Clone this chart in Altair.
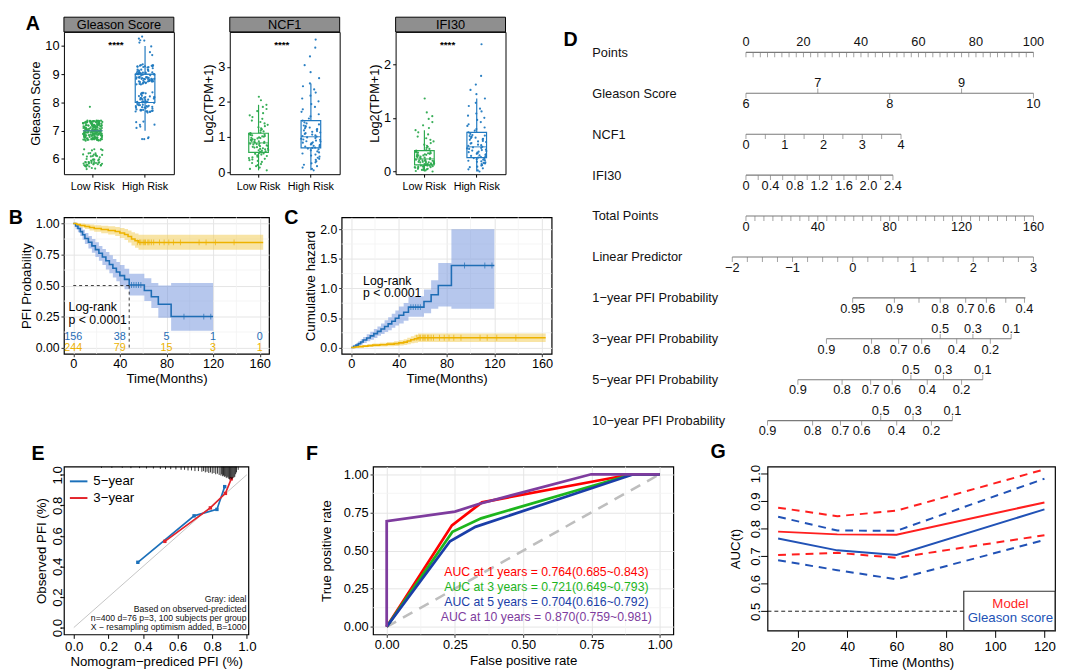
import altair as alt
import pandas as pd

FONT = "Liberation Sans"
M = "\u2212"

# ======================= Panel A data =======================
group_names = ["Low Risk", "High Risk"]
gleason_levels = [6, 7, 8, 9, 10]
gleason_low_counts = [52, 191, 1, 0, 0]
gleason_high_counts = [0, 10, 62, 76, 8]
ncf1_low = [0.05, 0.09, 0.13, 0.17, 0.20, 0.23, 0.26, 0.29, 0.32, 0.34, 0.36, 0.38, 0.40, 0.42, 0.44, 0.46,
            0.48, 0.50, 0.52, 0.53, 0.55, 0.56, 0.58, 0.59, 0.61, 0.62, 0.63, 0.65, 0.66, 0.67, 0.68, 0.70,
            0.71, 0.72, 0.74, 0.75, 0.76, 0.77, 0.79, 0.80, 0.81, 0.82, 0.83, 0.84, 0.86, 0.87, 0.88, 0.89,
            0.91, 0.92, 0.93, 0.94, 0.96, 0.97, 0.98, 0.99, 1.01, 1.02, 1.03, 1.05, 1.06, 1.07, 1.09, 1.10,
            1.11, 1.13, 1.16, 1.19, 1.22, 1.25, 1.28, 1.31, 1.35, 1.39, 1.43, 1.47, 1.52, 1.57, 1.62, 1.68,
            1.74, 1.80, 1.86, 1.92, 2.05, 2.15]
ncf1_high = [0.05, 0.09, 0.13, 0.17, 0.21, 0.25, 0.28, 0.31, 0.35, 0.38, 0.41, 0.44, 0.47, 0.50, 0.53, 0.56,
             0.59, 0.62, 0.65, 0.67, 0.69, 0.70, 0.72, 0.73, 0.75, 0.76, 0.78, 0.79, 0.81, 0.82, 0.84, 0.85,
             0.87, 0.88, 0.90, 0.92, 0.93, 0.95, 0.97, 0.99, 1.01, 1.03, 1.05, 1.07, 1.09, 1.11, 1.13, 1.15,
             1.17, 1.19, 1.21, 1.23, 1.25, 1.27, 1.29, 1.31, 1.33, 1.36, 1.39, 1.42, 1.47, 1.53, 1.59, 1.65,
             1.72, 1.79, 1.86, 1.94, 2.02, 2.10, 2.18, 2.27, 2.36, 2.45, 2.53, 2.68, 2.85, 3.05, 3.30, 3.55, 3.78]
ifi30_low = [0.00, 0.01, 0.02, 0.03, 0.03, 0.04, 0.05, 0.05, 0.06, 0.07, 0.07, 0.08, 0.08, 0.09, 0.09, 0.10,
             0.10, 0.11, 0.11, 0.11, 0.12, 0.12, 0.13, 0.13, 0.14, 0.14, 0.15, 0.15, 0.16, 0.16, 0.17, 0.17,
             0.18, 0.18, 0.19, 0.19, 0.20, 0.20, 0.21, 0.21, 0.22, 0.22, 0.23, 0.24, 0.25, 0.26, 0.26, 0.27,
             0.28, 0.28, 0.29, 0.30, 0.30, 0.31, 0.32, 0.32, 0.33, 0.34, 0.34, 0.35, 0.36, 0.36, 0.37, 0.38,
             0.39, 0.40, 0.42, 0.44, 0.46, 0.48, 0.50, 0.53, 0.56, 0.59, 0.62, 0.65, 0.69, 0.73, 0.77, 0.81,
             0.86, 0.92, 0.98, 1.03, 1.10, 1.36]
ifi30_high = [0.00, 0.02, 0.04, 0.06, 0.08, 0.09, 0.11, 0.12, 0.14, 0.15, 0.16, 0.17, 0.18, 0.19, 0.20, 0.21,
              0.22, 0.23, 0.24, 0.25, 0.26, 0.27, 0.28, 0.29, 0.30, 0.31, 0.32, 0.33, 0.34, 0.35, 0.36, 0.37,
              0.38, 0.39, 0.40, 0.41, 0.42, 0.43, 0.44, 0.45, 0.46, 0.48, 0.49, 0.50, 0.52, 0.53, 0.55, 0.56,
              0.57, 0.59, 0.60, 0.61, 0.62, 0.63, 0.64, 0.65, 0.66, 0.67, 0.68, 0.70, 0.73, 0.76, 0.79, 0.82,
              0.85, 0.88, 0.92, 0.96, 1.00, 1.04, 1.08, 1.12, 1.17, 1.22, 1.28, 1.36, 1.44, 1.52, 1.62, 1.78, 2.37]
sig_label = "****"

# ======================= Panel B / C data =======================
km_groups = ["High Risk", "Low Risk"]
high_t = [0, 2, 4, 6, 8, 10, 13, 16, 19, 22, 25, 28, 31, 34, 37, 40, 44, 48, 61, 67, 73, 84, 120]
high_s = [1.0, 0.98, 0.96, 0.935, 0.91, 0.88, 0.85, 0.82, 0.79, 0.76, 0.73, 0.70, 0.67, 0.64, 0.61, 0.58,
          0.55, 0.505, 0.46, 0.41, 0.35, 0.25, 0.25]
high_lo = [1.0, 0.955, 0.93, 0.90, 0.87, 0.835, 0.80, 0.765, 0.73, 0.70, 0.665, 0.63, 0.60, 0.565, 0.535,
           0.50, 0.47, 0.42, 0.375, 0.32, 0.24, 0.135, 0.135]
high_hi = [1.0, 1.0, 0.99, 0.97, 0.95, 0.925, 0.90, 0.875, 0.85, 0.82, 0.795, 0.77, 0.745, 0.715, 0.69,
           0.665, 0.635, 0.595, 0.56, 0.52, 0.50, 0.52, 0.52]
low_t = [0, 3, 6, 10, 14, 18, 24, 30, 36, 40, 44, 47, 50, 53, 56, 163]
low_s = [1.0, 0.992, 0.984, 0.976, 0.968, 0.96, 0.952, 0.944, 0.936, 0.924, 0.912, 0.896, 0.876, 0.862,
         0.848, 0.848]
low_lo = [1.0, 0.98, 0.968, 0.956, 0.945, 0.934, 0.922, 0.911, 0.899, 0.884, 0.868, 0.848, 0.824, 0.806,
          0.788, 0.788]
low_hi = [1.0, 1.0, 1.0, 0.996, 0.992, 0.987, 0.982, 0.978, 0.973, 0.965, 0.957, 0.945, 0.93, 0.92, 0.91, 0.91]
high_cens_t = [50, 52, 54, 56, 58, 95, 112, 118]
high_cens_s = [0.505, 0.505, 0.505, 0.505, 0.505, 0.25, 0.25, 0.25]
low_cens_t = [55, 57, 58, 60, 61, 62, 64, 65, 67, 69, 74, 78, 82, 86, 92, 108, 114, 122, 138]
low_cens_s = [0.848] * len(low_cens_t)
median_high_t = 48
risk_times = [0, 40, 80, 120, 160]
risk_high = [156, 38, 5, 1, 0]
risk_low = [244, 79, 15, 3, 1]
pval_text = "Log-rank\np < 0.0001"

# cumulative hazard (panel C)
high_H = [0.0, 0.02, 0.041, 0.067, 0.094, 0.128, 0.163, 0.198, 0.236, 0.274, 0.315, 0.357, 0.40, 0.446,
          0.494, 0.545, 0.598, 0.683, 0.777, 0.892, 1.05, 1.386, 1.386]
high_H_lo = [0.0, 0.0, 0.01, 0.03, 0.051, 0.078, 0.105, 0.134, 0.163, 0.198, 0.229, 0.261, 0.294, 0.335,
             0.371, 0.408, 0.454, 0.519, 0.58, 0.654, 0.693, 0.654, 0.654]
high_H_hi = [0.0, 0.046, 0.073, 0.105, 0.139, 0.18, 0.223, 0.268, 0.315, 0.357, 0.408, 0.462, 0.511, 0.571,
             0.626, 0.693, 0.755, 0.868, 0.981, 1.139, 1.427, 2.0, 2.0]
low_H = [0.0, 0.008, 0.016, 0.024, 0.033, 0.041, 0.049, 0.058, 0.066, 0.079, 0.092, 0.11, 0.132, 0.148,
         0.165, 0.165]
low_H_lo = [0.0, 0.0, 0.0, 0.004, 0.008, 0.013, 0.018, 0.022, 0.027, 0.036, 0.044, 0.057, 0.073, 0.083,
            0.094, 0.094]
low_H_hi = [0.0, 0.02, 0.033, 0.045, 0.057, 0.068, 0.081, 0.093, 0.106, 0.123, 0.141, 0.165, 0.193, 0.216,
            0.238, 0.238]
high_cens_H = [0.683, 0.683, 0.683, 0.683, 0.683, 1.386, 1.386, 1.386]
low_cens_H = [0.165] * len(low_cens_t)

# ======================= Panel D data (nomogram) =======================
nomo_rows = ["Points", "Gleason Score", "NCF1", "IFI30", "Total Points", "Linear Predictor",
             "1" + M + "year PFI Probability", "3" + M + "year PFI Probability",
             "5" + M + "year PFI Probability", "10" + M + "year PFI Probability"]
points_labels = [0, 20, 40, 60, 80, 100]
gleason_labels = [6, 7, 8, 9, 10]
gleason_sides = ["below", "above", "below", "above", "below"]
ncf1_labels = [0, 1, 2, 3, 4]
ncf1_end_tp = 86.3
ifi30_labels = [0, 0.4, 0.8, 1.2, 1.6, 2.0, 2.4]
ifi30_text = ["0", "0.4", "0.8", "1.2", "1.6", "2.0", "2.4"]
ifi30_end_tp = 81.8
total_labels = [0, 40, 80, 120, 160]
lp_labels = [-2, -1, 0, 1, 2, 3]
lp_text = [M + "2", M + "1", "0", "1", "2", "3"]
lp_tp_range = (-7.6, 160.0)
prob1_text = ["0.95", "0.9", "0.8", "0.7", "0.6", "0.4"]
prob1_pos = [59.4, 82.6, 108.1, 122.3, 133.8, 155.0]
prob1_side = ["below"] * 6
prob1_extra = [96.3, 144.6]
prob1_end = 155.5
probN_text = ["0.9", "0.8", "0.7", "0.6", "0.5", "0.4", "0.3", "0.2", "0.1"]
probN_side = ["below", "below", "below", "below", "above", "below", "above", "below", "above"]
prob3_pos = [44.8, 69.9, 85.0, 97.8, 108.1, 117.3, 126.3, 136.0, 147.6]
prob5_pos = [28.9, 53.5, 69.4, 81.4, 91.8, 100.9, 109.9, 120.0, 131.8]
prob10_pos = [12.0, 37.1, 52.6, 64.4, 75.0, 83.9, 93.0, 103.2, 114.9]

# ======================= Panel E data (calibration) =======================
cal_groups = ["5" + M + "year", "3" + M + "year"]
cal5_pred = [0.370, 0.695, 0.827, 0.872]
cal5_obs = [0.427, 0.731, 0.773, 0.922]
cal3_pred = [0.526, 0.789, 0.876, 0.910]
cal3_obs = [0.564, 0.783, 0.878, 0.973]
rug_x = [0.16, 0.22, 0.28, 0.33, 0.38, 0.42, 0.46, 0.50, 0.53, 0.56, 0.59, 0.62, 0.64, 0.66, 0.68, 0.70,
         0.72, 0.74, 0.75, 0.76, 0.77, 0.78, 0.79, 0.80, 0.81, 0.82, 0.83, 0.84, 0.85, 0.855, 0.86, 0.865,
         0.87, 0.875, 0.88, 0.885, 0.89, 0.895, 0.90, 0.905, 0.91, 0.915, 0.92, 0.925, 0.93, 0.935, 0.94, 0.95]
rug_f = [0.1, 0.1, 0.1, 0.12, 0.12, 0.15, 0.15, 0.18, 0.2, 0.2, 0.22, 0.25, 0.25, 0.3, 0.3, 0.35,
         0.35, 0.4, 0.35, 0.45, 0.4, 0.5, 0.45, 0.55, 0.5, 0.6, 0.55, 0.65, 0.7, 0.6, 0.75, 0.7,
         0.8, 0.75, 0.85, 0.9, 0.8, 0.95, 1.0, 0.9, 1.0, 0.95, 0.9, 0.85, 0.8, 0.6, 0.45, 0.25]
cal_notes = ["Gray: ideal", "Based on observed-predicted", "n=400 d=76 p=3, 100 subjects per group",
             "X " + M + " resampling optimism added, B=1000"]

# ======================= Panel F data (ROC) =======================
roc_years = [1, 3, 5, 10]
roc_fpr = [[0, 0.239, 0.349, 0.898, 1.0],
           [0, 0.241, 0.346, 0.90, 1.0],
           [0, 0.232, 0.325, 0.904, 1.0],
           [0, 0.0, 0.25, 0.337, 0.749, 1.0]]
roc_tpr = [[0, 0.665, 0.816, 1.0, 1.0],
           [0, 0.623, 0.711, 1.0, 1.0],
           [0, 0.561, 0.655, 1.0, 1.0],
           [0, 0.692, 0.755, 0.805, 1.0, 1.0]]
auc_val = ["0.764", "0.721", "0.704", "0.870"]
auc_lo = ["0.685", "0.649", "0.616", "0.759"]
auc_hi = ["0.843", "0.793", "0.792", "0.981"]
auc_text_y = [0.362, 0.262, 0.163, 0.063]
roc_colors = ["#FF0000", "#1DB51D", "#1A3EA8", "#7E3C9E"]

# ======================= Panel G data (time AUC) =======================
g_times = [12, 36, 60, 120]
model_auc = [0.789, 0.779, 0.778, 0.895]
model_lo = [0.704, 0.712, 0.694, 0.776]
model_hi = [0.876, 0.845, 0.865, 1.015]
gleason_auc = [0.764, 0.721, 0.704, 0.870]
gleason_auc_lo = [0.685, 0.649, 0.616, 0.759]
gleason_auc_hi = [0.843, 0.793, 0.792, 0.981]

# ======================= styles =======================
A_GREEN = "#2DAA4F"
A_BLUE = "#2079C0"
KM_BLUE = "#1F6DB5"
KM_BLUE_BAND = "#6D8FDC"
KM_YEL = "#EDB200"
KM_YEL_BAND = "#F2C94C"
E_BLUE = "#1B70BA"
E_RED = "#E3242B"
G_RED = "#FF1F1F"
G_BLUE = "#2152B6"
BORDER = alt.ViewBackground(stroke="black", strokeWidth=1.2)


def letter(t, dx=0, offset=2):
    return alt.TitleParams(text=t, anchor="start", fontSize=20, fontWeight="bold", dx=dx,
                           offset=offset, color="black")


def yp(v, dom, h):
    return (dom[1] - v) / (dom[1] - dom[0]) * h


def indep(c):
    return c.resolve_scale(color="independent", fill="independent").resolve_legend(
        color="independent", fill="independent")


# ======================= Panel A =======================
A_W, A_H, STRIP_H = 112, 145, 15


def a_panel(strip_text, low_vals, high_vals, ytitle, ydom, yvals, yjit):
    df = pd.DataFrame({"grp": [group_names[0]] * len(low_vals) + [group_names[1]] * len(high_vals),
                       "val": list(low_vals) + list(high_vals)})
    xsc = alt.Scale(domain=group_names, paddingInner=0.0, paddingOuter=0.05)
    ysc = alt.Scale(domain=ydom, nice=False, zero=False)
    yax = alt.Axis(values=yvals, title=ytitle, grid=False, domain=False, tickSize=3, tickColor="black",
                   labelFontSize=13, titleFontSize=13, labelPadding=2, titlePadding=2)
    xax = alt.Axis(title=None, labelAngle=0, labelFontSize=11, tickSize=3, tickColor="black",
                   domain=False, labelPadding=4)
    xenc = alt.X("grp:N", scale=xsc, axis=xax, sort=group_names)
    pts = alt.Chart(df).transform_window(idx="row_number()").transform_calculate(
        jx="(abs(sin(datum.idx * 12.9898) * 43758.5453) % 1) - 0.5",
        yj="datum.val + ((abs(sin(datum.idx * 78.233) * 43758.5453) % 1) - 0.5) * " + str(yjit),
    ).mark_circle(size=5, opacity=0.95).encode(
        x=xenc,
        xOffset=alt.XOffset("jx:Q", scale=alt.Scale(domain=[-1.35, 1.35])),
        y=alt.Y("yj:Q", scale=ysc, axis=yax),
        color=alt.Color("grp:N", scale=alt.Scale(domain=group_names, range=[A_GREEN, A_BLUE]), legend=None),
    )
    layers = [pts]
    for g, c in zip(group_names, [A_GREEN, A_BLUE]):
        layers.append(alt.Chart(df).transform_filter(alt.datum.grp == g).mark_boxplot(
            size=20, extent=1.5, outliers=False, ticks=False,
            box={"fill": "white", "fillOpacity": 0, "stroke": c, "strokeWidth": 1.2},
            median={"color": c, "thickness": 1.3},
            rule={"color": c, "strokeWidth": 1.2},
        ).encode(x=xenc, y=alt.Y("val:Q", scale=ysc, axis=yax)))
    sdf = pd.DataFrame({"t": [strip_text], "s": [sig_label]})
    layers += [
        alt.Chart(sdf).mark_text(fontSize=10, fontWeight="bold").encode(
            x=alt.value(A_W / 2 - 3), y=alt.value(13), text="s:N"),
        # facet strip drawn just above the panel
        alt.Chart(sdf).mark_rect(fill="#8F8F8F", stroke="black", strokeWidth=1).encode(
            x=alt.value(0), x2=alt.value(A_W), y=alt.value(-STRIP_H), y2=alt.value(0)),
        alt.Chart(sdf).mark_text(fontSize=13, color="black").encode(
            x=alt.value(A_W / 2), y=alt.value(-STRIP_H / 2 + 1), text="t:N"),
    ]
    return alt.layer(*layers).properties(width=A_W, height=A_H,
                                         view=alt.ViewBackground(stroke="black", strokeWidth=1))


gleason_low = [lv for lv, n in zip(gleason_levels, gleason_low_counts) for _ in range(n)]
gleason_high = [lv for lv, n in zip(gleason_levels, gleason_high_counts) for _ in range(n)]
a1 = a_panel("Gleason Score", gleason_low, gleason_high, "Gleason Score", [5.46, 10.5], [6, 7, 8, 9, 10], 0.72)
a2 = a_panel("NCF1", ncf1_low, ncf1_high, "Log2(TPM+1)", [-0.06, 4.0], [0, 1, 2, 3], 0)
a3 = a_panel("IFI30", ifi30_low, ifi30_high, "Log2(TPM+1)", [-0.05, 2.6], [0, 1, 2], 0)
a_row = indep(alt.hconcat(a1, a2, a3, spacing=28)).properties(title=letter("A", dx=-4, offset=-18))

# ======================= Panels B and C =======================
B_W, B_H, C_W = 209, 139, 214
KM_XDOM = [-8, 168]
km_major_t = [0, 40, 80, 120, 160]
km_minor_t = [20, 60, 100, 140]


def km_chart(s_high, lo_high, hi_high, s_low, lo_low, hi_low, cens_high, cens_low, ydom, yvals, yfmt,
             ytitle, minor_y, W, H, extra):
    curve = pd.DataFrame({"t": high_t + low_t, "s": s_high + s_low, "lo": lo_high + lo_low,
                          "hi": hi_high + hi_low,
                          "grp": [km_groups[0]] * len(high_t) + [km_groups[1]] * len(low_t)})
    cens = pd.DataFrame({"t": high_cens_t + low_cens_t, "s": cens_high + cens_low,
                         "grp": [km_groups[0]] * len(high_cens_t) + [km_groups[1]] * len(low_cens_t)})
    xsc = alt.Scale(domain=KM_XDOM, nice=False, zero=False)
    ysc = alt.Scale(domain=ydom, nice=False, zero=False)
    xax = alt.Axis(values=km_major_t, title="Time(Months)", grid=True, gridColor="#E4E4E4", domain=False,
                   tickSize=3, tickColor="#333333", labelFontSize=13, titleFontSize=13.5, labelPadding=1,
                   titlePadding=1)
    yax = alt.Axis(values=yvals, format=yfmt, title=ytitle, grid=True, gridColor="#E4E4E4", domain=False,
                   tickSize=3, tickColor="#333333", labelFontSize=12.5, titleFontSize=13.5, labelPadding=2,
                   titlePadding=2)
    X = lambda f: alt.X(f, scale=xsc, axis=xax)
    Y = lambda f: alt.Y(f, scale=ysc, axis=yax)
    leg = alt.Legend(orient="none", legendX=14, legendY=-21, direction="horizontal", title="Group",
                     titleOrient="left", titleFontSize=13, labelFontSize=13, symbolType="stroke",
                     symbolStrokeWidth=3, symbolSize=180, titlePadding=5, columnPadding=4, labelOffset=2,
                     padding=0)
    col = alt.Color("grp:N", scale=alt.Scale(domain=km_groups, range=[KM_BLUE, KM_YEL]), legend=leg)
    layers = [
        alt.Chart(pd.DataFrame({"t": km_minor_t})).mark_rule(color="#F2F2F2", strokeWidth=0.8).encode(x=X("t:Q")),
        alt.Chart(pd.DataFrame({"s": minor_y})).mark_rule(color="#F2F2F2", strokeWidth=0.8).encode(y=Y("s:Q")),
        alt.Chart(curve).mark_area(interpolate="step-after", fillOpacity=0.5).encode(
            x=X("t:Q"), y=Y("lo:Q"), y2="hi:Q",
            fill=alt.Fill("grp:N", scale=alt.Scale(domain=km_groups, range=[KM_BLUE_BAND, KM_YEL_BAND]),
                          legend=None)),
        alt.Chart(curve).mark_line(interpolate="step-after", strokeWidth=1.6).encode(
            x=X("t:Q"), y=Y("s:Q"), color=col),
        alt.Chart(cens).mark_tick(orient="vertical", size=6, thickness=1).encode(
            x=X("t:Q"), y=Y("s:Q"), color=col),
    ]
    layers += extra(X, Y)
    return alt.layer(*layers).properties(width=W, height=H, view=BORDER)


B_YDOM = [-0.05, 1.05]


def b_extra(X, Y):
    hl = pd.DataFrame({"t": [0], "t2": [median_high_t], "s": [0.5]})
    vl = pd.DataFrame({"t": [median_high_t], "s": [0.0], "s2": [0.5]})
    rh = pd.DataFrame({"t": risk_times, "n": [str(v) for v in risk_high]})
    rl = pd.DataFrame({"t": risk_times, "n": [str(v) for v in risk_low]})
    pv = pd.DataFrame({"t": [-4], "s": [0.372], "txt": [pval_text]})
    return [
        alt.Chart(hl).mark_rule(strokeDash=[3, 3], color="black", strokeWidth=0.8).encode(
            x=X("t:Q"), x2="t2:Q", y=Y("s:Q")),
        alt.Chart(vl).mark_rule(strokeDash=[3, 3], color="black", strokeWidth=0.8).encode(
            x=X("t:Q"), y=Y("s:Q"), y2="s2:Q"),
        alt.Chart(rh).mark_text(fontSize=11, color=KM_BLUE).encode(
            x=X("t:Q"), y=alt.value(yp(0.082, B_YDOM, B_H)), text="n:N"),
        alt.Chart(rl).mark_text(fontSize=11, color=KM_YEL).encode(
            x=X("t:Q"), y=alt.value(yp(0.0, B_YDOM, B_H)), text="n:N"),
        alt.Chart(pv).mark_text(fontSize=12.5, align="left", baseline="top", lineBreak="\n",
                                lineHeight=12.5).encode(x=X("t:Q"), y=Y("s:Q"), text="txt:N"),
    ]


def c_extra(X, Y):
    pv = pd.DataFrame({"t": [10], "s": [1.22], "txt": [pval_text]})
    return [alt.Chart(pv).mark_text(fontSize=12.5, align="left", baseline="top", lineBreak="\n",
                                    lineHeight=12.5).encode(x=X("t:Q"), y=Y("s:Q"), text="txt:N")]


b = km_chart(high_s, high_lo, high_hi, low_s, low_lo, low_hi, high_cens_s, low_cens_s, B_YDOM,
             [0, 0.25, 0.5, 0.75, 1.0], ".2f", "PFI Probability", [0.125, 0.375, 0.625, 0.875],
             B_W, B_H, b_extra).properties(title=letter("B", dx=-11, offset=-11))
c = km_chart(high_H, high_H_lo, high_H_hi, low_H, low_H_lo, low_H_hi, high_cens_H, low_cens_H,
             [-0.105, 2.2], [0, 0.5, 1.0, 1.5, 2.0], ".1f", "Cumulative hazard", [0.25, 0.75, 1.25, 1.75],
             C_W, B_H, c_extra).properties(title=letter("C", dx=-20, offset=-11))
bc_row = indep(alt.hconcat(b, c, spacing=13))
left_block = indep(alt.vconcat(a_row, bc_row, spacing=15))

# ======================= Panel D (nomogram) =======================
nomo_line, nomo_tick, nomo_lab = [], [], []


def add_linear(row, vmin, vmax, pmin, pmax, minor, lab_vals, lab_txt, lab_side, tick_dir):
    f = lambda v: pmin + (v - vmin) / (vmax - vmin) * (pmax - pmin)
    nomo_line.append({"row": row, "pos": pmin, "pos2": pmax})
    n = int(round((vmax - vmin) / minor))
    for i in range(n + 1):
        nomo_tick.append({"row": row, "pos": f(vmin + i * minor), "dir": tick_dir})
    for v, t, s in zip(lab_vals, lab_txt, lab_side):
        nomo_lab.append({"row": row, "pos": f(v), "text": t, "side": s})


def add_prob(row, txts, poss, sides, extra, end=None):
    nomo_line.append({"row": row, "pos": min(poss), "pos2": end if end else max(poss)})
    for t, p, s in zip(txts, poss, sides):
        nomo_tick.append({"row": row, "pos": p, "dir": "down" if s == "below" else "up"})
        nomo_lab.append({"row": row, "pos": p, "text": t, "side": s})
    for p in extra:
        nomo_tick.append({"row": row, "pos": p, "dir": "down"})


add_linear(nomo_rows[0], 0, 100, 0, 160, 2.5, points_labels, [str(v) for v in points_labels],
           ["above"] * 6, "down")
nomo_line.append({"row": nomo_rows[1], "pos": 0, "pos2": 160})
for v, s in zip(gleason_labels, gleason_sides):
    p = (v - 6) / 4 * 160
    nomo_tick.append({"row": nomo_rows[1], "pos": p, "dir": "up" if s == "above" else "down"})
    nomo_lab.append({"row": nomo_rows[1], "pos": p, "text": str(v), "side": s})
add_linear(nomo_rows[2], 0, 4, 0, ncf1_end_tp, 0.5, ncf1_labels, [str(v) for v in ncf1_labels],
           ["below"] * 5, "down")
add_linear(nomo_rows[3], 0, 2.4, 0, ifi30_end_tp, 0.2, ifi30_labels, ifi30_text, ["below"] * 7, "down")
add_linear(nomo_rows[4], 0, 160, 0, 160, 5, total_labels, [str(v) for v in total_labels],
           ["below"] * 5, "down")
add_linear(nomo_rows[5], -2, 3, lp_tp_range[0], lp_tp_range[1], 0.25, lp_labels, lp_text,
           ["below"] * 6, "down")
add_prob(nomo_rows[6], prob1_text, prob1_pos, prob1_side, prob1_extra, prob1_end)
add_prob(nomo_rows[7], probN_text, prob3_pos, probN_side, [])
add_prob(nomo_rows[8], probN_text, prob5_pos, probN_side, [])
add_prob(nomo_rows[9], probN_text, prob10_pos, probN_side, [])

D_W, D_H = 308, 417
nl, nt, nlab = pd.DataFrame(nomo_line), pd.DataFrame(nomo_tick), pd.DataFrame(nomo_lab)
dx_sc = alt.Scale(domain=[-8.2, 160], nice=False, zero=False)
dy_enc = alt.Y("row:N", sort=nomo_rows, scale=alt.Scale(type="point", padding=0.5),
               axis=alt.Axis(title=None, ticks=False, domain=False, labelAlign="left", labelPadding=142,
                             labelFontSize=13, labelLimit=220, labelColor="#111111"))
NOMO_LINE = "#7A7A7A"
d = alt.layer(
    alt.Chart(nl).mark_rule(color=NOMO_LINE, strokeWidth=1.1).encode(
        x=alt.X("pos:Q", scale=dx_sc, axis=None), x2="pos2:Q", y=dy_enc),
    alt.Chart(nt).transform_filter(alt.datum.dir == "down").mark_tick(
        orient="vertical", size=5, thickness=1, yOffset=2.5, color=NOMO_LINE).encode(
        x=alt.X("pos:Q", scale=dx_sc, axis=None), y=dy_enc),
    alt.Chart(nt).transform_filter(alt.datum.dir == "up").mark_tick(
        orient="vertical", size=5, thickness=1, yOffset=-2.5, color=NOMO_LINE).encode(
        x=alt.X("pos:Q", scale=dx_sc, axis=None), y=dy_enc),
    alt.Chart(nlab).transform_filter(alt.datum.side == "below").mark_text(
        baseline="top", dy=5, fontSize=13, color="#111111").encode(
        x=alt.X("pos:Q", scale=dx_sc, axis=None), y=dy_enc, text="text:N"),
    alt.Chart(nlab).transform_filter(alt.datum.side == "above").mark_text(
        baseline="bottom", dy=-3, fontSize=13, color="#111111").encode(
        x=alt.X("pos:Q", scale=dx_sc, axis=None), y=dy_enc, text="text:N"),
).properties(width=D_W, height=D_H, title=letter("D", dx=-29, offset=-18))

top = indep(alt.hconcat(left_block, d, spacing=9))

# ======================= Panel E (calibration) =======================
E_W, E_H = 188, 171
exsc = alt.Scale(domain=[-0.057, 1.009], nice=False, zero=False)
eysc = alt.Scale(domain=[-0.045, 1.053], nice=False, zero=False)
exax = alt.Axis(values=[0, 0.2, 0.4, 0.6, 0.8, 1.0], format=".1f", title="Nomogram" + M + "prediced PFI (%)",
                grid=False, domain=False, tickSize=4, tickColor="black", labelFontSize=13.5, titleFontSize=13.5,
                labelPadding=1, titlePadding=2)
eyax = alt.Axis(values=[0, 0.2, 0.4, 0.6, 0.8, 1.0], format=".1f", title="Observed PFI (%)", grid=False,
                domain=False, tickSize=4, tickColor="black", labelFontSize=13.5, titleFontSize=13.5,
                labelAngle=270, labelAlign="center", labelBaseline="alphabetic", labelPadding=-2,
                titlePadding=3)
cal_df = pd.DataFrame({"p": cal5_pred + cal3_pred, "o": cal5_obs + cal3_obs,
                       "grp": [cal_groups[0]] * 4 + [cal_groups[1]] * 4})
e_leg = alt.Legend(orient="top-left", title=None, symbolType="stroke", symbolStrokeWidth=2, symbolSize=320,
                   labelFontSize=13.5, offset=5, rowPadding=0, labelOffset=5, padding=0)
e_col = alt.Color("grp:N", scale=alt.Scale(domain=cal_groups, range=[E_BLUE, E_RED]), legend=e_leg)
notes_df = pd.DataFrame({"t": ["\n".join(cal_notes)]})
NOTE_LH = 9.4
e_main = alt.layer(
    alt.Chart(pd.DataFrame({"p": [0, 1], "o": [0, 1]})).mark_line(color="#C4C4C4", strokeWidth=1).encode(
        x=alt.X("p:Q", scale=exsc, axis=exax), y=alt.Y("o:Q", scale=eysc, axis=eyax)),
    alt.Chart(cal_df).mark_line(strokeWidth=1.7).encode(
        x=alt.X("p:Q", scale=exsc, axis=exax), y=alt.Y("o:Q", scale=eysc, axis=eyax), color=e_col),
    alt.Chart(cal_df).mark_point(shape="square", filled=True, size=12, opacity=1).encode(
        x=alt.X("p:Q", scale=exsc, axis=exax), y=alt.Y("o:Q", scale=eysc, axis=eyax), color=e_col),
    alt.Chart(notes_df).mark_text(align="right", baseline="top", fontSize=8.8, lineBreak="\n",
                                  lineHeight=NOTE_LH, color="#111111").encode(
        x=alt.value(E_W - 2), y=alt.value(E_H - 2 - NOTE_LH * len(cal_notes)), text="t:N"),
)
e_rug = alt.Chart(pd.DataFrame({"p": rug_x, "f": rug_f})).transform_calculate(z="0").mark_rule(
    color="black", strokeWidth=0.8).encode(
    x=alt.X("p:Q", scale=exsc, axis=exax),
    y=alt.Y("z:Q", scale=alt.Scale(domain=[0, 1], range=[0, 13]), axis=None), y2="f:Q")
e = alt.layer(e_main, e_rug).resolve_scale(y="independent").properties(
    width=E_W, height=E_H, view=BORDER, title=letter("E", dx=-3, offset=2))

# ======================= Panel F (ROC) =======================
F_W, F_H = 306, 171
fsc = alt.Scale(domain=[-0.05, 1.05], nice=False, zero=False)
f_ticks = [0, 0.25, 0.5, 0.75, 1.0]
fxax = alt.Axis(values=f_ticks, format=".2f", title="False positive rate", grid=True, gridColor="#E4E4E4",
                domain=False, tickSize=3, tickColor="#333333", labelFontSize=13, titleFontSize=13.5,
                labelPadding=1, titlePadding=3)
fyax = alt.Axis(values=f_ticks, format=".2f", title="True positive rate", grid=True, gridColor="#E4E4E4",
                domain=False, tickSize=3, tickColor="#333333", labelFontSize=13, titleFontSize=13.5,
                labelPadding=2, titlePadding=10)
FX = lambda fld: alt.X(fld, scale=fsc, axis=fxax)
FY = lambda fld: alt.Y(fld, scale=fsc, axis=fyax)
f_minor = [0.125, 0.375, 0.625, 0.875]
f_layers = [
    alt.Chart(pd.DataFrame({"x": f_minor})).mark_rule(color="#F2F2F2", strokeWidth=0.8).encode(x=FX("x:Q")),
    alt.Chart(pd.DataFrame({"y": f_minor})).mark_rule(color="#F2F2F2", strokeWidth=0.8).encode(y=FY("y:Q")),
    alt.Chart(pd.DataFrame({"x": [0, 1], "y": [0, 1]})).mark_line(
        color="#BEBEBE", strokeWidth=2.6, strokeDash=[11, 8]).encode(x=FX("x:Q"), y=FY("y:Q")),
]
for fp, tp, colr in zip(roc_fpr, roc_tpr, roc_colors):
    f_layers.append(alt.Chart(pd.DataFrame({"x": fp, "y": tp, "k": list(range(len(fp)))})).mark_line(
        color=colr, strokeWidth=2.8).encode(x=FX("x:Q"), y=FY("y:Q"), order="k:Q"))
for yr, v, lo, hi, ty, colr in zip(roc_years, auc_val, auc_lo, auc_hi, auc_text_y, roc_colors):
    txt = "AUC at " + str(yr) + " years = " + v + "(" + lo + "~" + hi + ")"
    f_layers.append(alt.Chart(pd.DataFrame({"x": [0.585], "y": [ty], "t": [txt]})).mark_text(
        fontSize=12.5, color=colr).encode(x=FX("x:Q"), y=FY("y:Q"), text="t:N"))
f = alt.layer(*f_layers).properties(width=F_W, height=F_H, view=BORDER,
                                    title=letter("F", dx=-14, offset=2))

# ======================= Panel G (time-dependent AUC) =======================
G_W, G_H = 293, 167
gxsc = alt.Scale(domain=[7.7, 124.3], nice=False, zero=False)
gysc = alt.Scale(domain=[0.43, 1.025], nice=False, zero=False)
gxax = alt.Axis(values=[20, 40, 60, 80, 100, 120], title="Time (Months)", grid=False, domain=False,
                tickSize=7, tickColor="black", labelFontSize=13.5, titleFontSize=13.5, labelPadding=2,
                titlePadding=3)
gyax = alt.Axis(values=[0.5, 0.6, 0.7, 0.8, 0.9, 1.0], format=".1f", title="AUC(t)", grid=False, domain=False,
                tickSize=7, tickColor="black", labelFontSize=13.5, titleFontSize=13.5, labelAngle=270,
                labelAlign="center", labelBaseline="alphabetic", labelPadding=1, titlePadding=7)
g_series = [(model_auc, G_RED, None), (model_lo, G_RED, [8, 6]), (model_hi, G_RED, [8, 6]),
            (gleason_auc, G_BLUE, None), (gleason_auc_lo, G_BLUE, [8, 6]), (gleason_auc_hi, G_BLUE, [8, 6])]
LEG_X0, LEG_Y0 = 200, G_H - 40
g_layers = [
    alt.Chart(pd.DataFrame({"v": [0.5]})).mark_rule(color="black", strokeWidth=0.9, strokeDash=[4, 3]).encode(
        y=alt.Y("v:Q", scale=gysc, axis=gyax), x=alt.value(0), x2=alt.value(LEG_X0)),
]
for vals, colr, dash in g_series:
    mk = dict(color=colr, strokeWidth=2)
    if dash:
        mk["strokeDash"] = dash
    g_layers.append(alt.Chart(pd.DataFrame({"t": g_times, "v": vals})).mark_line(**mk).encode(
        x=alt.X("t:Q", scale=gxsc, axis=gxax), y=alt.Y("v:Q", scale=gysc, axis=gyax)))
g_layers += [
    alt.Chart(pd.DataFrame({"t": ["Model"]})).mark_rect(fill="white", stroke="#333333", strokeWidth=1.2).encode(
        x=alt.value(LEG_X0), x2=alt.value(G_W), y=alt.value(LEG_Y0), y2=alt.value(G_H)),
    alt.Chart(pd.DataFrame({"t": ["Model"]})).mark_text(fontSize=13.5, color=G_RED).encode(
        x=alt.value((LEG_X0 + G_W) / 2 + 1), y=alt.value(LEG_Y0 + 13), text="t:N"),
    alt.Chart(pd.DataFrame({"t": ["Gleason score"]})).mark_text(fontSize=13.5, color=G_BLUE).encode(
        x=alt.value((LEG_X0 + G_W) / 2 + 1), y=alt.value(LEG_Y0 + 27), text="t:N"),
]
g = alt.layer(*g_layers).properties(width=G_W, height=G_H, view=BORDER,
                                    title=letter("G", dx=-18, offset=2))

ef = indep(alt.hconcat(e, f, spacing=49))
bottom = indep(alt.hconcat(ef, g, spacing=36))

chart = indep(alt.vconcat(top, bottom, spacing=0)).properties(padding=0).configure(
    font=FONT).configure_view(stroke="transparent").configure_axis(
    labelFont=FONT, titleFont=FONT, labelColor="black", titleColor="black", titleFontWeight="normal"
).configure_legend(labelFont=FONT, titleFont=FONT, titleFontWeight="normal", labelColor="black",
                   titleColor="black").configure_title(font=FONT).configure_text(font=FONT)

chart.save("out.html", embed_options={"renderer": "svg", "actions": False})
